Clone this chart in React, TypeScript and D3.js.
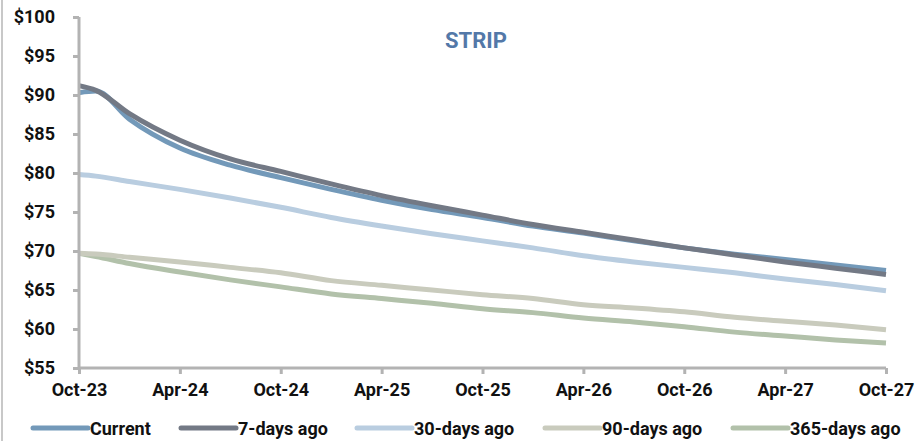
import { useEffect, useRef } from "react";
import * as d3 from "d3";

// months since Oct-23 at which values were read
const months = [0, 1, 3, 6, 9, 12, 15, 18, 21, 24, 27, 30, 33, 36, 39, 42, 45, 48];

const current = [90.3, 90.5, 86.9, 83.2, 81.0, 79.4, 77.9, 76.5, 75.3, 74.3, 73.2, 72.3, 71.3, 70.4, 69.6, 68.9, 68.2, 67.5];
const days7 = [91.2, 90.6, 87.6, 84.2, 81.8, 80.2, 78.6, 77.1, 75.8, 74.6, 73.4, 72.4, 71.4, 70.4, 69.5, 68.6, 67.8, 67.0];
const days30 = [79.8, 79.6, 78.9, 77.9, 76.8, 75.6, 74.3, 73.2, 72.2, 71.3, 70.4, 69.4, 68.6, 67.9, 67.2, 66.4, 65.7, 64.9];
const days90 = [69.7, 69.6, 69.2, 68.6, 67.9, 67.2, 66.2, 65.6, 65.0, 64.4, 63.9, 63.1, 62.7, 62.2, 61.5, 61.0, 60.5, 59.9];
const days365 = [69.7, 69.3, 68.4, 67.3, 66.3, 65.4, 64.5, 63.9, 63.3, 62.6, 62.1, 61.4, 60.9, 60.3, 59.6, 59.1, 58.6, 58.2];

const seriesNames = ["Current", "7-days ago", "30-days ago", "90-days ago", "365-days ago"];
const seriesColors = ["#7399b9", "#737985", "#b9cde0", "#c9cbbd", "#b2c1aa"];

const xTickMonths = [0, 6, 12, 18, 24, 30, 36, 42, 48];
const xTickLabels = ["Oct-23", "Apr-24", "Oct-24", "Apr-25", "Oct-25", "Apr-26", "Oct-26", "Apr-27", "Oct-27"];
const yTicks = [55, 60, 65, 70, 75, 80, 85, 90, 95, 100];

export default function App() {
  const svgRef = useRef<SVGSVGElement | null>(null);

  useEffect(() => {
    if (!svgRef.current) return;
    const width = 917;
    const height = 441;
    const font = "Roboto, 'Liberation Sans', sans-serif";

    const svg = d3.select(svgRef.current);
    svg.selectAll("*").remove();

    const x = d3.scaleLinear().domain([0, 48]).range([79, 886]);
    const y = d3.scaleLinear().domain([55, 100]).range([368, 17]);

    // left border
    svg.append("line")
      .attr("x1", 2).attr("x2", 2).attr("y1", 0).attr("y2", height)
      .attr("stroke", "#c8c8c8").attr("stroke-width", 2);

    const allSeries = [current, days7, days30, days90, days365];
    const drawOrder = [4, 3, 2, 0, 1];

    const line = d3.line<number>()
      .x((_, i) => x(months[i]))
      .y((d) => y(d))
      .curve(d3.curveMonotoneX);

    drawOrder.forEach((s) => {
      svg.append("path")
        .datum(allSeries[s])
        .attr("d", line)
        .attr("fill", "none")
        .attr("stroke", seriesColors[s])
        .attr("stroke-width", 5)
        .attr("stroke-linejoin", "round");
    });

    // axes
    const axisColor = "#b3b3b3";
    const yAxis = svg.append("g")
      .attr("transform", `translate(${x(0)},0)`)
      .call(d3.axisLeft(y).tickValues(yTicks).tickSize(6).tickPadding(18).tickFormat((d) => `$${d}`));
    const xAxis = svg.append("g")
      .attr("transform", `translate(0,${y(55)})`)
      .call(
        d3.axisBottom(x)
          .tickValues(xTickMonths)
          .tickSize(6)
          .tickPadding(9)
          .tickFormat((_, i) => xTickLabels[i])
      );

    [yAxis, xAxis].forEach((g) => {
      g.select(".domain").attr("stroke", axisColor).attr("stroke-width", 3);
      g.selectAll(".tick line").attr("stroke", axisColor).attr("stroke-width", 3);
      g.selectAll(".tick text")
        .attr("fill", "#111")
        .attr("font-family", font)
        .attr("font-weight", "bold")
        .attr("font-size", 18);
    });
    yAxis.select(".domain").attr("d", `M0,${y(100)}V${y(55)}`);
    xAxis.select(".domain").attr("d", `M${x(0)},0H${x(48)}`);
    yAxis.selectAll(".tick text").attr("x", -24);

    // title
    svg.append("text")
      .attr("x", 476).attr("y", 48)
      .attr("text-anchor", "middle")
      .attr("font-family", font)
      .attr("font-weight", "bold")
      .attr("font-size", 22)
      .attr("fill", "#5378a8")
      .text("STRIP");

    // legend
    const legendX = [33, 181, 357, 545, 733];
    const legendY = 428;
    seriesNames.forEach((name, i) => {
      svg.append("line")
        .attr("x1", legendX[i]).attr("x2", legendX[i] + 55)
        .attr("y1", legendY).attr("y2", legendY)
        .attr("stroke", seriesColors[i]).attr("stroke-width", 5)
        .attr("stroke-linecap", "round");
      svg.append("text")
        .attr("x", legendX[i] + 57).attr("y", legendY + 6.5)
        .attr("font-family", font)
        .attr("font-weight", "bold")
        .attr("font-size", 18)
        .attr("fill", "#111")
        .text(name);
    });
  }, []);

  return (
    <svg
      ref={svgRef}
      width={917}
      height={441}
      style={{ position: "absolute", left: 0, top: 0, background: "#fff" }}
    ></svg>
  );
}
